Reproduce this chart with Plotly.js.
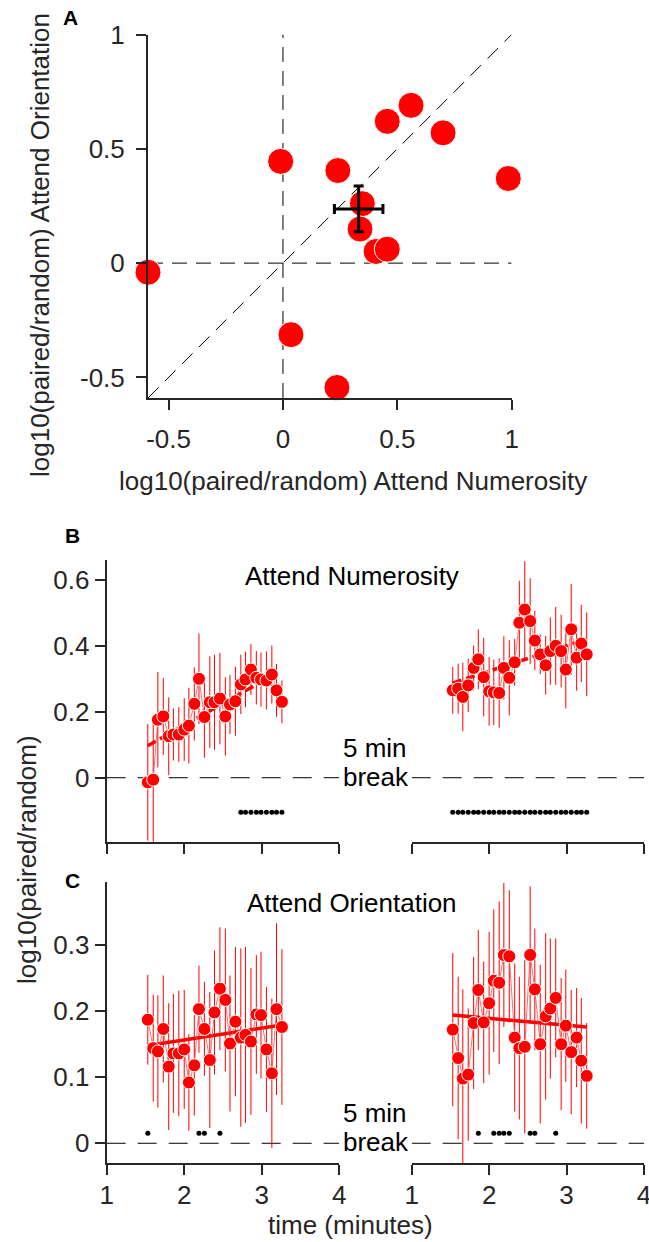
<!DOCTYPE html>
<html><head><meta charset="utf-8">
<script src="https://cdn.plot.ly/plotly-3.0.1.min.js"></script>
<style>html,body{margin:0;padding:0;background:#fff}</style>
</head><body><div id="chart" style="width:649px;height:1242px"></div>
<script>
// ---------- Panel A data ----------
const numA = [-0.59, -0.01, 0.24, 0.456, 0.56, 0.70, 0.985, 0.347, 0.337, 0.407, 0.456, 0.035, 0.236];
const oriA = [-0.04, 0.445, 0.405, 0.62, 0.69, 0.57, 0.37, 0.26, 0.149, 0.051, 0.061, -0.313, -0.544];
const meanA = [0.331, 0.237];
const semA = [0.106, 0.10];

// ---------- Panels B / C data ----------
const times = [1.53,1.60,1.66,1.73,1.80,1.86,1.93,2.00,2.06,2.13,2.19,2.26,2.33,2.39,2.46,2.53,2.59,2.66,2.73,2.79,2.86,2.93,2.99,3.06,3.13,3.19,3.26];

const numPre  = [-0.014,-0.006,0.176,0.186,0.126,0.131,0.131,0.146,0.158,0.224,0.30,0.184,0.229,0.229,0.24,0.186,0.222,0.232,0.283,0.298,0.328,0.303,0.298,0.295,0.313,0.265,0.23];
const numPreErr = [0.177,0.19,0.145,0.117,0.118,0.079,0.083,0.095,0.115,0.111,0.137,0.123,0.139,0.144,0.139,0.119,0.089,0.105,0.09,0.084,0.077,0.081,0.082,0.088,0.088,0.08,0.065];
const numPost = [0.265,0.27,0.245,0.28,0.333,0.359,0.305,0.262,0.259,0.257,0.333,0.303,0.35,0.47,0.51,0.475,0.416,0.374,0.341,0.384,0.40,0.384,0.328,0.45,0.364,0.407,0.374];
const numPostErr = [0.071,0.076,0.104,0.081,0.068,0.091,0.119,0.104,0.099,0.105,0.096,0.114,0.071,0.127,0.147,0.13,0.09,0.06,0.089,0.102,0.118,0.11,0.118,0.138,0.1,0.117,0.127];

const oriPre  = [0.187,0.144,0.139,0.173,0.116,0.136,0.136,0.142,0.092,0.118,0.203,0.173,0.126,0.198,0.234,0.217,0.151,0.184,0.16,0.164,0.154,0.195,0.194,0.142,0.106,0.203,0.176];
const oriPreErr = [0.068,0.081,0.085,0.081,0.096,0.09,0.095,0.09,0.073,0.076,0.066,0.071,0.103,0.094,0.093,0.108,0.103,0.113,0.135,0.133,0.111,0.09,0.096,0.095,0.113,0.13,0.118];
const oriPost = [0.172,0.129,0.098,0.104,0.182,0.232,0.183,0.212,0.246,0.243,0.285,0.283,0.16,0.144,0.146,0.285,0.233,0.15,0.192,0.204,0.22,0.15,0.178,0.138,0.16,0.125,0.102];
const oriPostErr = [0.116,0.123,0.135,0.1,0.1,0.091,0.092,0.108,0.108,0.123,0.109,0.1,0.112,0.108,0.131,0.104,0.092,0.12,0.126,0.106,0.09,0.1,0.085,0.094,0.075,0.095,0.08];

// linear trend end values (first, last time point)
const numPreTrend = [0.097, 0.326];
const numPostTrend = [0.287, 0.42];
const oriPreTrend = [0.148, 0.179];
const oriPostTrend = [0.194, 0.176];

// significant time points
const numPreSig = [2.73,2.79,2.86,2.93,2.99,3.06,3.13,3.19,3.26];
const numPostSig = times.slice();
const oriPreSig = [1.53,2.19,2.26,2.46];
const oriPostSig = [1.86,2.06,2.13,2.19,2.26,2.53,2.59,2.86];
const sigLevelNum = -0.105;
const sigLevelOri = 0.015;

// ---------- build ----------
const W = 649, H = 1242;
const FONT = 'Liberation Sans, Arial, Helvetica, sans-serif';
const AX = '#262626';
const FS = 26;
const px = v => v / W;
const py = v => 1 - v / H;

const traces = [];
// Panel A
traces.push({x: numA, y: oriA, mode: 'markers', type: 'scatter', xaxis: 'x', yaxis: 'y',
  cliponaxis: false,
  marker: {color: '#ff0000', size: 26, line: {color: '#ffffff', width: 1}}});
traces.push({x: [meanA[0]], y: [meanA[1]], mode: 'markers', type: 'scatter', xaxis: 'x', yaxis: 'y',
  marker: {color: 'rgba(0,0,0,0)', size: 2},
  error_x: {type: 'data', array: [semA[0]], visible: true, color: '#000', thickness: 3, width: 5},
  error_y: {type: 'data', array: [semA[1]], visible: true, color: '#000', thickness: 3, width: 5}});

function addSession(xa, ya, vals, errs, trend, sigT, sigY, dash) {
  traces.push({x: [times[0], times[times.length - 1]], y: trend, mode: 'lines', type: 'scatter',
    xaxis: xa, yaxis: ya, line: {color: '#ff0000', width: 3.5, dash: dash}});
  traces.push({x: times, y: vals, mode: 'lines+markers', type: 'scatter', xaxis: xa, yaxis: ya,
    line: {color: 'rgba(255,60,60,0.75)', width: 1},
    marker: {color: '#ff0000', size: 13, line: {color: '#ffffff', width: 1}},
    error_y: {type: 'data', array: errs, visible: true, color: '#ff0000', thickness: 1, width: 0}});
  traces.push({x: sigT, y: sigT.map(() => sigY), mode: 'markers', type: 'scatter', xaxis: xa, yaxis: ya,
    marker: {color: '#000', size: 5}});
}
addSession('x2', 'y2', numPre, numPreErr, numPreTrend, numPreSig, sigLevelNum, '9px,5px');
addSession('x3', 'y3', numPost, numPostErr, numPostTrend, numPostSig, sigLevelNum, '9px,5px');
addSession('x4', 'y4', oriPre, oriPreErr, oriPreTrend, oriPreSig, sigLevelOri, 'solid');
addSession('x5', 'y5', oriPost, oriPostErr, oriPostTrend, oriPostSig, sigLevelOri, 'solid');

const baseAxis = {showline: true, linecolor: AX, linewidth: 2, ticks: 'outside', ticklen: 10,
  tickwidth: 2, tickcolor: AX, showgrid: false, zeroline: false, ticklabeloverflow: 'allow',
  tickfont: {family: FONT, size: FS, color: AX}};

const layout = {
  width: W, height: H, margin: {l: 0, r: 0, t: 0, b: 0},
  paper_bgcolor: '#fff', plot_bgcolor: '#fff', showlegend: false,
  font: {family: FONT, size: FS, color: '#000'},
  xaxis: Object.assign({}, baseAxis, {domain: [px(148), px(511.7)], range: [-0.59, 1], anchor: 'y',
    tickvals: [-0.5, 0, 0.5, 1], ticktext: ['-0.5', '0', '0.5', '1'], ticklabelstandoff: 7}),
  yaxis: Object.assign({}, baseAxis, {domain: [py(398), py(34.5)], range: [-0.59, 1], anchor: 'x',
    tickvals: [-0.5, 0, 0.5, 1], ticktext: ['-0.5', '0', '0.5', '1'], ticklabelstandoff: 6}),
  xaxis2: Object.assign({}, baseAxis, {domain: [px(106.7), px(339.3)], range: [1, 4], anchor: 'y2',
    tickvals: [1, 2, 3, 4], showticklabels: false}),
  yaxis2: Object.assign({}, baseAxis, {domain: [py(841.7), py(560.4)], range: [-0.194, 0.659], anchor: 'x2',
    tickvals: [0, 0.2, 0.4, 0.6], ticktext: ['0', '0.2', '0.4', '0.6']}),
  xaxis3: Object.assign({}, baseAxis, {domain: [px(411.7), px(644)], range: [1, 4], anchor: 'y3',
    tickvals: [1, 2, 3, 4], showticklabels: false}),
  yaxis3: {domain: [py(841.7), py(560.4)], range: [-0.194, 0.659], anchor: 'x3', visible: false},
  xaxis4: Object.assign({}, baseAxis, {domain: [px(106.7), px(339.3)], range: [1, 4], anchor: 'y4',
    tickvals: [1, 2, 3, 4], ticktext: ['1', '2', '3', '4'], ticklabelstandoff: -3}),
  yaxis4: Object.assign({}, baseAxis, {domain: [py(1163.3), py(882.3)], range: [-0.0303, 0.395], anchor: 'x4',
    tickvals: [0, 0.1, 0.2, 0.3], ticktext: ['0', '0.1', '0.2', '0.3']}),
  xaxis5: Object.assign({}, baseAxis, {domain: [px(411.7), px(644)], range: [1, 4], anchor: 'y5',
    tickvals: [1, 2, 3, 4], ticktext: ['1', '2', '3', '4'], ticklabelstandoff: -3}),
  yaxis5: {domain: [py(1163.3), py(882.3)], range: [-0.0303, 0.395], anchor: 'x5', visible: false},
  shapes: [],
  annotations: []
};

const dashA = {color: '#000', width: 1, dash: '15px,9px'};
const dashB = {color: '#000', width: 1, dash: '19px,12px'};
layout.shapes.push({type: 'line', xref: 'x', yref: 'y', x0: -0.59, x1: 1, y0: 0, y1: 0, line: dashA, layer: 'below'});
layout.shapes.push({type: 'line', xref: 'x', yref: 'y', x0: 0, x1: 0, y0: -0.59, y1: 1, line: dashA, layer: 'below'});
layout.shapes.push({type: 'line', xref: 'x', yref: 'y', x0: -0.59, x1: 1, y0: -0.59, y1: 1, line: dashA, layer: 'below'});
[['x2','y2'],['x3','y3'],['x4','y4'],['x5','y5']].forEach(([xr, yr]) => {
  layout.shapes.push({type: 'line', xref: xr, yref: yr, x0: 1, x1: 4, y0: 0, y1: 0, line: dashB, layer: 'below'});
});

function ann(text, x, y, opts) {
  layout.annotations.push(Object.assign({text: text, xref: 'paper', yref: 'paper', x: px(x), y: py(y),
    xanchor: 'center', yanchor: 'middle', showarrow: false,
    font: {family: FONT, size: FS, color: '#000'}}, opts || {}));
}
ann('<b>A</b>', 70, 18, {font: {family: FONT, size: 21, color: '#000'}});
ann('<b>B</b>', 72, 535, {font: {family: FONT, size: 21, color: '#000'}});
ann('<b>C</b>', 72, 880, {font: {family: FONT, size: 21, color: '#000'}});
ann('log10(paired/random) Attend Numerosity', 353, 481, {font: {family: FONT, size: FS, color: AX}});
ann('log10(paired/random) Attend Orientation', 40, 245, {textangle: -90, font: {family: FONT, size: FS, color: AX}});
ann('log10(paired/random)', 27, 860, {textangle: -90, font: {family: FONT, size: FS, color: AX}});
ann('time (minutes)', 350, 1225, {font: {family: FONT, size: FS, color: AX}});
ann('Attend Numerosity', 352, 576);
ann('Attend Orientation', 352, 903);
ann('5 min', 375, 748);
ann('break', 376, 777);
ann('5 min', 375, 1113);
ann('break', 376, 1142);

Plotly.newPlot('chart', traces, layout, {staticPlot: true, displayModeBar: false});
</script></body></html>
